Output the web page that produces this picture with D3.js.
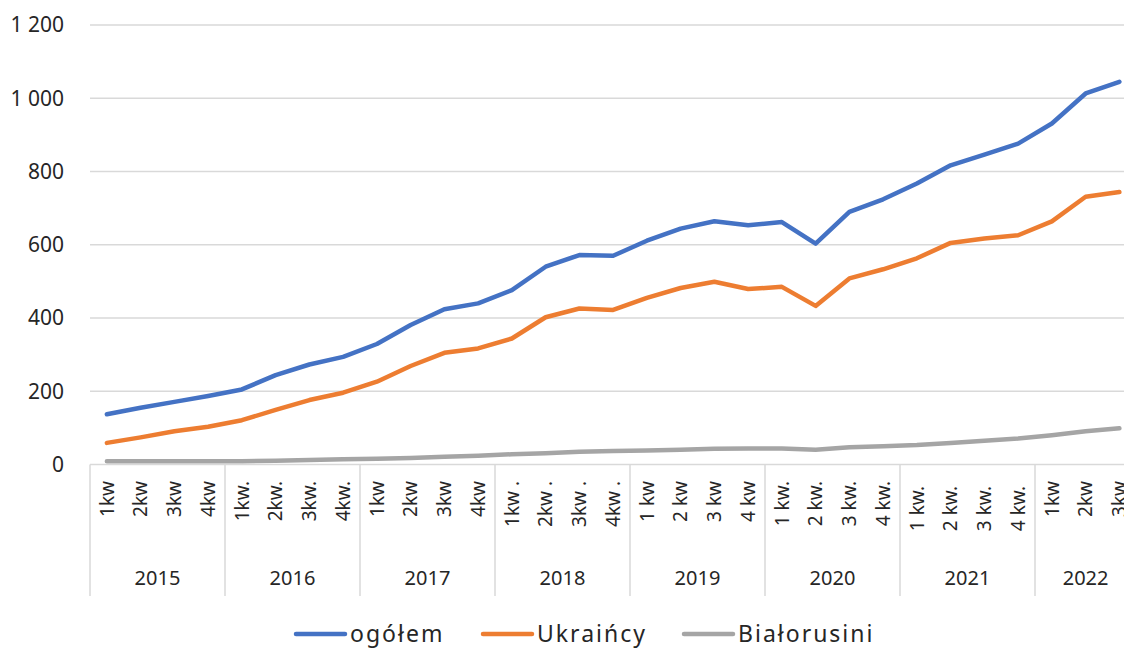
<!DOCTYPE html>
<html>
<head>
<meta charset="utf-8">
<script src="https://cdn.jsdelivr.net/npm/d3@7"></script>
<style>
  html, body { margin: 0; padding: 0; background: #fff; }
  svg { display: block; font-family: "Noto Sans", sans-serif; }
  text { white-space: pre; }
</style>
</head>
<body>
<svg id="chart" width="1124" height="648"></svg>
<script>
const years = ["2015", "2016", "2017", "2018", "2019", "2020", "2021", "2022"];
const quarterLabels = [
  ["1kw", "2kw", "3kw", "4kw"],
  ["1kw.", "2kw.", "3kw.", "4kw."],
  ["1kw", "2kw", "3kw", "4kw"],
  ["1kw .", "2kw .", "3kw .", "4kw ."],
  ["1 kw", "2 kw", "3 kw", "4 kw"],
  ["1 kw.", "2 kw.", "3 kw.", "4 kw."],
  ["1 kw. ", "2 kw. ", "3 kw. ", "4 kw. "],
  ["1kw", "2kw", "3kw"]
];
const seriesNames = ["ogółem", "Ukraińcy", "Białorusini"];
const colors = ["#4472C4", "#ED7D31", "#A5A5A5"];
const ogolem = [137, 155, 171, 187, 205, 244, 273, 294, 329, 381, 424, 440,
                476, 540, 572, 570, 611, 644, 664, 653, 662, 603, 690, 724,
                767, 817, 846, 876, 931, 1013, 1045];
const ukraincy = [59, 74, 91, 103, 121, 149, 176, 196, 226, 269, 305, 317,
                  344, 402, 426, 422, 455, 482, 499, 479, 485, 433, 508, 533,
                  563, 605, 617, 626, 664, 731, 744];
const bialorusini = [9, 9, 9, 9, 9, 10, 12, 14, 16, 18, 21, 24,
                     28, 31, 35, 37, 38, 40, 43, 44, 44, 40, 47, 50,
                     53, 59, 65, 71, 80, 91, 99];
const yTicks = [0, 200, 400, 600, 800, 1000, 1200];
const yTickLabels = ["0", "200", "400", "600", "800", "1 000", "1 200"];

(function () {
const cats = [];
years.forEach((yr, yi) => quarterLabels[yi].forEach((q, qi) => cats.push({ id: yr + "-" + qi, year: yr, label: q })));
const allSeries = [ogolem, ukraincy, bialorusini];

const svg = d3.select("#chart");
const plotLeft = 90, qW = 33.75;
const plotRight = plotLeft + cats.length * qW;
const plotTop = 25, plotBottom = 464.5;

const x = d3.scaleBand().domain(cats.map(d => d.id)).range([plotLeft, plotRight]).padding(0);
const y = d3.scaleLinear().domain([0, 1200]).range([plotBottom, plotTop]);

svg.append("g").selectAll("line").data(yTicks.filter(t => t > 0)).join("line")
  .attr("x1", plotLeft).attr("x2", plotRight)
  .attr("y1", d => y(d)).attr("y2", d => y(d))
  .attr("stroke", "#d9d9d9").attr("stroke-width", 1.5);

svg.append("g").selectAll("text").data(yTicks).join("text")
  .attr("x", 64).attr("y", d => y(d))
  .attr("dy", "0.35em")
  .attr("text-anchor", "end")
  .attr("font-size", 21).attr("fill", "#262626")
  .text((d, i) => yTickLabels[i]);

svg.append("line").attr("x1", plotLeft).attr("x2", plotRight)
  .attr("y1", y(0)).attr("y2", y(0))
  .attr("stroke", "#d9d9d9").attr("stroke-width", 1.5);

const yearStarts = [];
let idx = 0;
years.forEach((yr, yi) => { yearStarts.push({ year: yr, start: idx, n: quarterLabels[yi].length }); idx += quarterLabels[yi].length; });
const sepXs = yearStarts.map(d => x(cats[d.start].id)).concat([plotRight]);
svg.append("g").selectAll("line").data(sepXs).join("line")
  .attr("x1", d => d).attr("x2", d => d)
  .attr("y1", y(0)).attr("y2", 596)
  .attr("stroke", "#d9d9d9").attr("stroke-width", 1.5);

svg.append("g").selectAll("text").data(cats).join("text")
  .attr("transform", d => `translate(${x(d.id) + x.bandwidth() / 2},481) rotate(-90)`)
  .attr("text-anchor", "end")
  .attr("dy", "0.35em")
  .attr("font-size", 19).attr("fill", "#262626")
  .text(d => d.label);

svg.append("g").selectAll("text").data(yearStarts).join("text")
  .attr("x", d => x(cats[d.start].id) + x.bandwidth() * d.n / 2)
  .attr("y", 578).attr("dy", "0.35em")
  .attr("text-anchor", "middle")
  .attr("font-size", 20).attr("fill", "#262626")
  .text(d => d.year);

const line = d3.line()
  .x((d, i) => x(cats[i].id) + x.bandwidth() / 2)
  .y(d => y(d));
svg.append("g").selectAll("path").data(allSeries.slice().reverse()).join("path")
  .attr("d", d => line(d))
  .attr("fill", "none")
  .attr("stroke", (d, i) => colors[allSeries.length - 1 - i])
  .attr("stroke-width", 4.5)
  .attr("stroke-linejoin", "round")
  .attr("stroke-linecap", "round");

const legendItems = [
  { name: seriesNames[0], color: colors[0], x: 296 },
  { name: seriesNames[1], color: colors[1], x: 483 },
  { name: seriesNames[2], color: colors[2], x: 684 }
];
const lg = svg.append("g").selectAll("g").data(legendItems).join("g")
  .attr("transform", d => `translate(${d.x},634)`);
lg.append("line").attr("x1", 0).attr("x2", 49).attr("y1", 0).attr("y2", 0)
  .attr("stroke", d => d.color).attr("stroke-width", 4.5).attr("stroke-linecap", "round");
lg.append("text").attr("x", 54).attr("dy", "0.35em")
  .attr("font-size", 23).attr("letter-spacing", 2).attr("fill", "#262626")
  .text(d => d.name);
})();
</script>
</body>
</html>
